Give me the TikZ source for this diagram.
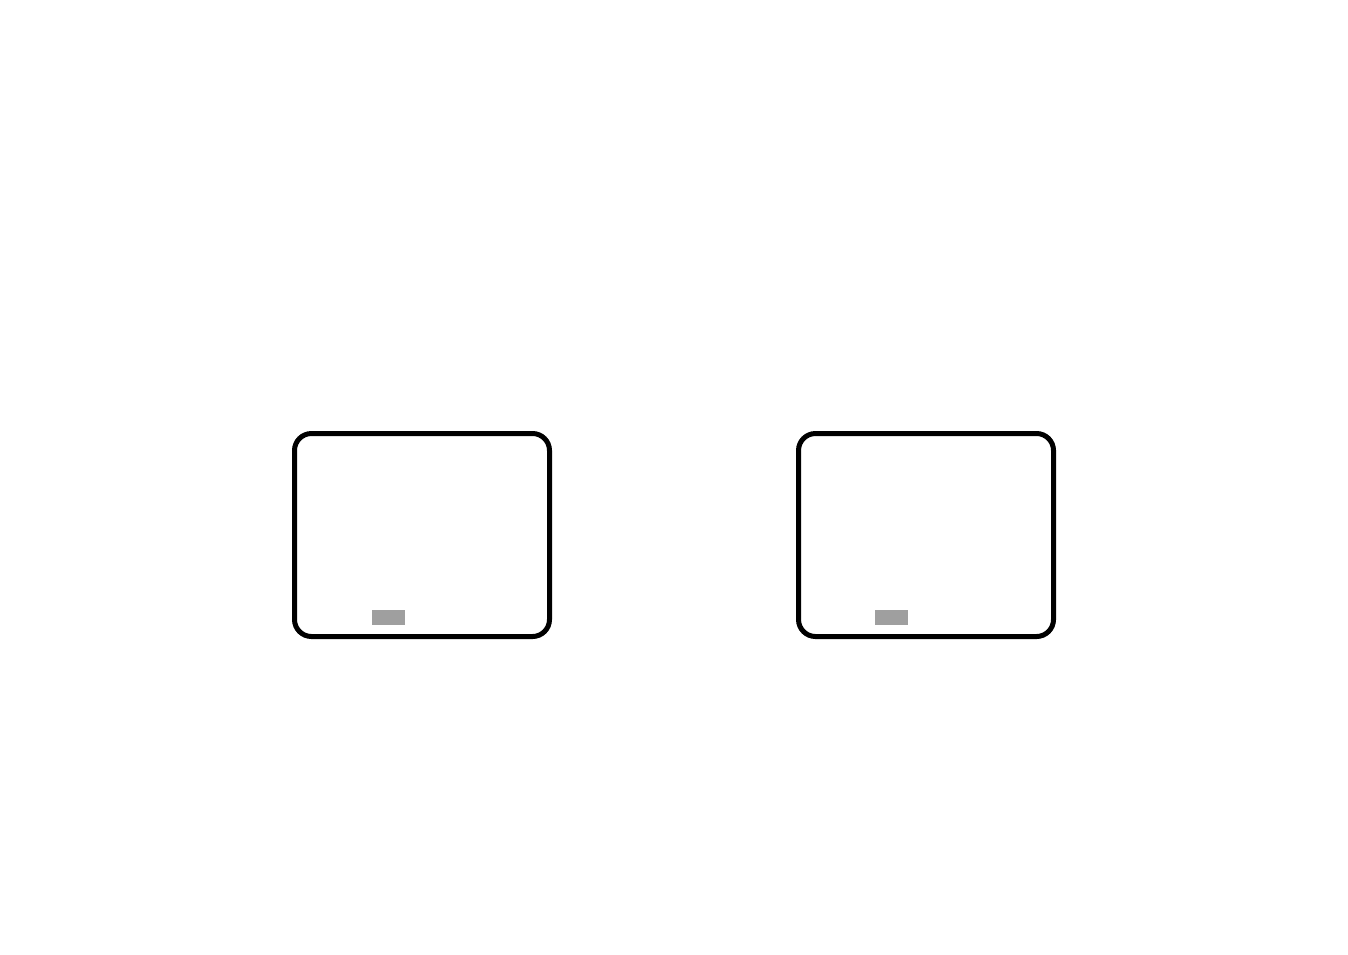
\documentclass[tikz,border=0pt]{standalone}
\begin{document}
\begin{tikzpicture}[x=1pt,y=-1pt,
  frame/.style={draw=black,line width=5pt,rounded corners=17pt},
  tag/.style={fill=gray!75!white,draw=none}]
\useasboundingbox (0,0) rectangle (1348,954);
\fill[white] (0,0) rectangle (1348,954);
\draw[frame] (294.5,433.5) rectangle (549.5,636.5);
\fill[tag] (372,610) rectangle (405,625);
\draw[frame] (798.5,433.5) rectangle (1053.5,636.5);
\fill[tag] (875,610) rectangle (908,625);
\end{tikzpicture}
\end{document}
